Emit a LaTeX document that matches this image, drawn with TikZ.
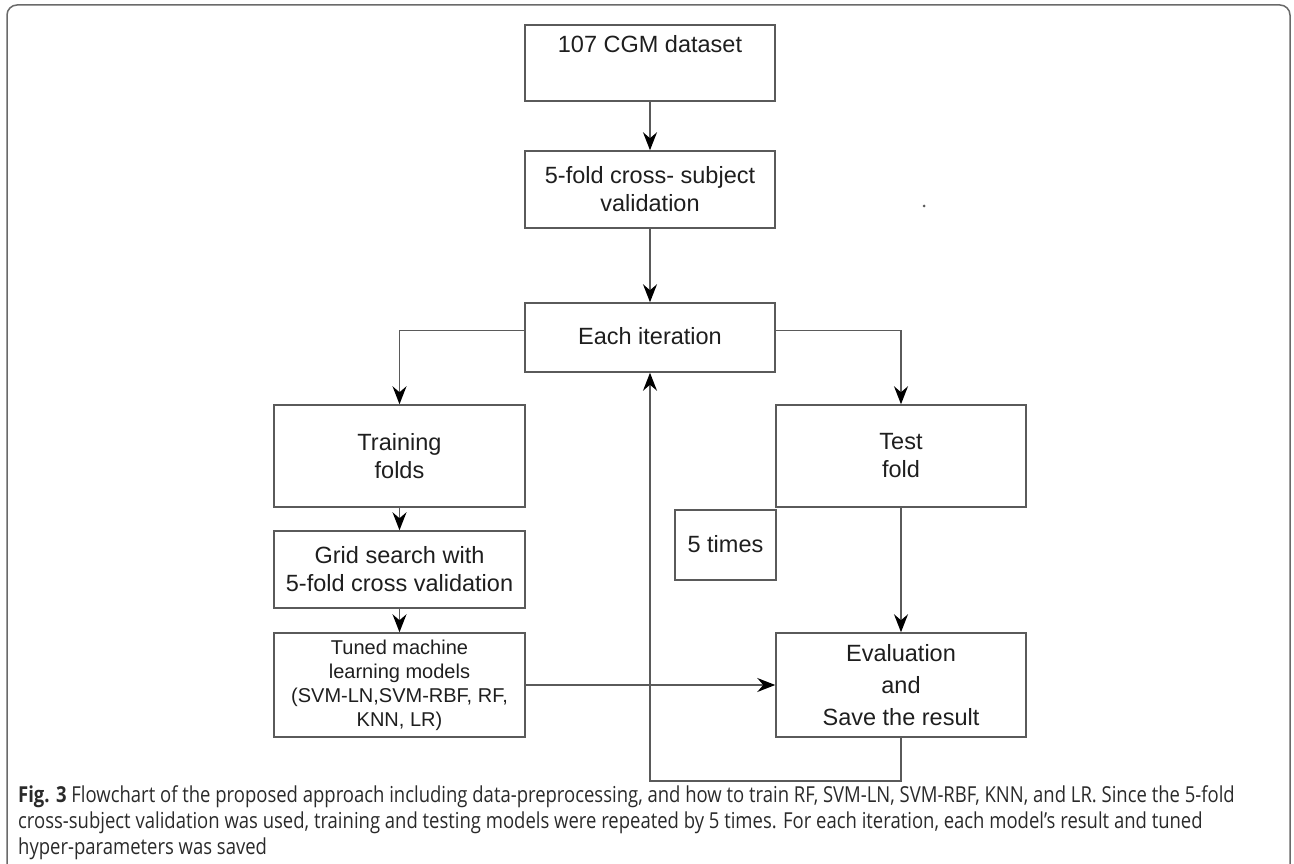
\documentclass[tikz,border=0pt]{standalone}
\usepackage{fontspec}
\setmainfont{Liberation Sans}
\newfontfamily\capfont[FakeStretch=0.84]{Open Sans}
\usetikzlibrary{arrows.meta}
\definecolor{linegray}{HTML}{5A5A5A}
\definecolor{framegray}{HTML}{6A6A6A}
\definecolor{txt}{HTML}{1E1E1E}
\definecolor{captxt}{HTML}{2A2A2A}
\tikzset{
  box/.style={draw=linegray, line width=1.5pt, align=center, text=txt,
    font=\fontsize{23.5}{28}\selectfont, inner sep=0pt},
  smallbox/.style={box, font=\fontsize{20}{24}\selectfont},
  bigsp/.style={box, font=\fontsize{23.5}{32}\selectfont},
  conn/.style={draw=linegray, line width=1.5pt,
    -{Stealth[length=18pt,width=14pt,inset=6pt,color=black]}},
  plain/.style={text=txt, font=\fontsize{23.5}{28}\selectfont, inner sep=0pt}
}
\begin{document}
\begin{tikzpicture}[x=1pt,y=-1pt]
\useasboundingbox (0,0) rectangle (1294,864);
% frame
\draw[framegray, line width=1.5pt, rounded corners=10pt]
  (7,900) -- (7,5) -- (1290,5) -- (1290,900);
% boxes
\node[box, minimum width=250pt, minimum height=76pt] (b1) at (650,63) {};
\node[plain] (t1) at (650,44) {107 CGM dataset};
\node[box, minimum width=250pt, minimum height=77pt] (b2) at (650,189.5)
  {5-fold cross- subject\\validation};
\node[box, minimum width=250pt, minimum height=69pt] (ei) at (650,337.5)
  {\raisebox{4pt}{Each iteration}};
\node[box, minimum width=251pt, minimum height=102pt] (tr) at (399.5,456)
  {Training\\folds};
\node[box, minimum width=251pt, minimum height=77pt] (gs) at (399.5,569.5)
  {Grid search with\\5-fold cross validation};
\node[smallbox, minimum width=251pt, minimum height=104pt] (tu) at (399.5,685)
  {Tuned machine\\learning models\\(SVM-LN,SVM-RBF, RF,\\KNN, LR)};
\node[box, minimum width=101pt, minimum height=70pt] (fv) at (725.5,545)
  {\raisebox{3pt}{5 times}};
\node[box, minimum width=250pt, minimum height=102pt] (te) at (901,456)
  {Test\\fold};
\node[bigsp, minimum width=250pt, minimum height=104pt] (ev) at (901,685)
  {Evaluation\\and\\Save the result};
% stray dot
\fill[linegray] (924,206) circle (1.5pt);
% connectors
\draw[conn] (b1) -- (b2);
\draw[conn] (b2) -- (ei);
\draw[conn] ([yshift=7pt]ei.west) -| (tr.north);
\draw[conn] ([yshift=7pt]ei.east) -| (te.north);
\draw[conn] (tr) -- (gs);
\draw[conn] (gs) -- (tu);
\draw[conn] (te) -- (ev);
\draw[conn] (tu.east) -- (ev.west);
\coordinate (lb) at (650,781);
\draw[conn] (ev.south) |- (lb) -- (ei.south);
% caption
\node[anchor=north west, align=left, inner sep=0pt, text=captxt,
  font=\capfont\fontsize{22}{26}\selectfont] (cap) at (18,785)
  {\textbf{Fig. 3} Flowchart of the proposed approach including data-preprocessing, and how to train RF, SVM-LN, SVM-RBF, KNN, and LR. Since the 5-fold\\
   cross-subject validation was used, training and testing models were repeated by 5 times. For each iteration, each model’s result and tuned\\
   hyper-parameters was saved};
\end{tikzpicture}
\end{document}
